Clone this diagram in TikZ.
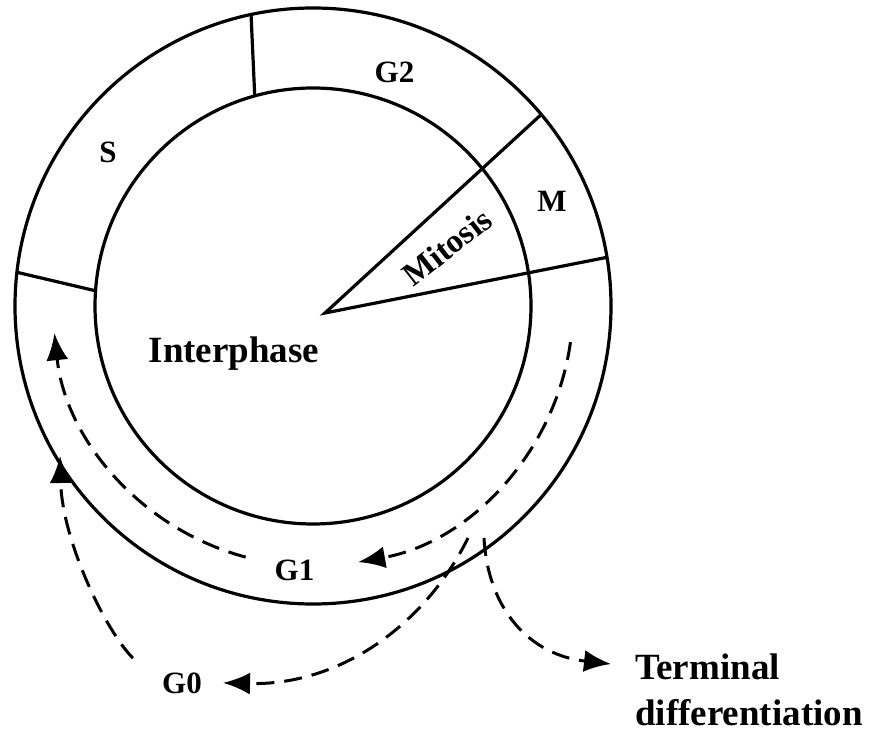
\documentclass[tikz,border=0pt]{standalone}
\usepackage{fontspec}
\setmainfont{Liberation Serif}
\usetikzlibrary{arrows.meta,calc}

\begin{document}
\begin{tikzpicture}[x=1pt,y=1pt,
    ring/.style={line width=3.2pt},
    flow/.style={line width=3pt, dash pattern=on 18pt off 10pt, -{Latex[length=27pt,width=22pt]}},
    phase/.style={font=\fontsize{31}{37}\selectfont\bfseries, inner sep=0pt},
    big/.style={font=\fontsize{37}{46}\selectfont\bfseries, inner sep=0pt}]
    \useasboundingbox (0,0) rectangle (870,732);
    \coordinate (c) at (313,426);
    \coordinate (apex) at (325,419);
    \draw[ring] (c) circle (298);
    \draw[ring] (c) circle (218);
    \draw[ring] ($(c)+(102:298)$) -- ($(c)+(105.5:218)$);
    \draw[ring] ($(c)+(173.5:298)$) -- ($(c)+(176:218)$);
    \draw[ring] ($(c)+(40:298)$) -- (apex) -- ($(c)+(9.4:298)$);
    \node[phase, anchor=base] (g2) at (394.5,649) {G2};
    \node[phase, anchor=base] (s) at (108,569) {S};
    \node[phase, anchor=base] (m) at (552,520) {M};
    \node[phase, rotate=38, font=\fontsize{33}{38}\selectfont\bfseries] (mit) at (447,485) {Mitosis};
    \node[big, anchor=base] (inter) at (234,370) {Interphase};
    \node[phase, anchor=base] (g1) at (294.5,152) {G1};
    \node[phase, anchor=base] (g0) at (182,39) {G0};
    \node[big, anchor=north west, align=left] (term) at (635,78) {Terminal\\differentiation};
    \coordinate (g1r) at ($(c)+(-8:260)$);
    \draw[flow] (g1r) arc[start angle=-8, end angle=-80, radius=260];
    \coordinate (g1l) at ($(c)+(-105:260)$);
    \draw[flow] (g1l) arc[start angle=-105, end angle=-174, radius=260];
    \coordinate (g0out) at (468,194);
    \draw[flow] (g0out) .. controls (425,107) and (340,46) .. ([xshift=21pt]g0.east);
    \coordinate (tdout) at (484,194);
    \draw[flow] (tdout) .. controls (488,122) and (530,77) .. ([shift={(-24,-10)}]term.north west);
    \coordinate (g0back) at (60,276);
    \draw[flow] ([shift={(-29,14)}]g0.north west) .. controls (105,102) and (62,192) .. (g0back);
\end{tikzpicture}
\end{document}
